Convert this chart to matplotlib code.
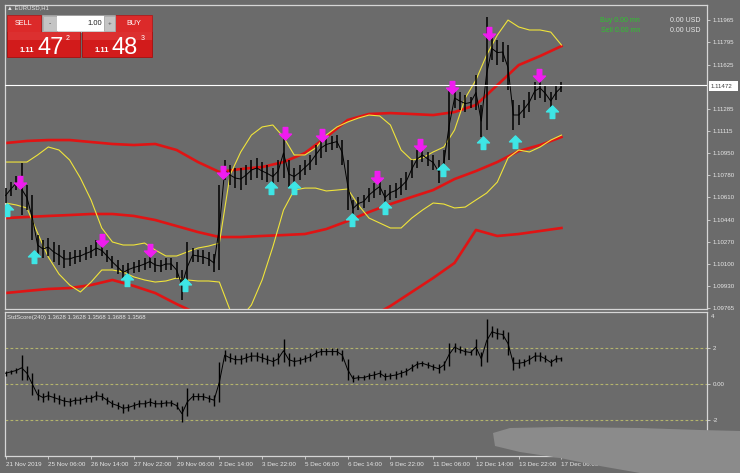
import matplotlib
matplotlib.use('Agg')
import matplotlib.pyplot as plt
from matplotlib.path import Path
from matplotlib.patches import Rectangle, Polygon

# ---------------- data ----------------
bar_index = list(range(0, 420, 4))   # sampled H1 bar numbers

price_high = [1.10681,1.10727,1.10773,1.10872,1.10704,1.10628,1.10322,1.10284,1.10299,1.10269,
              1.10246,1.10208,1.10193,1.10208,1.10208,1.10231,1.10246,1.10284,1.10246,1.10208,
              1.10162,1.10131,1.10093,1.10108,1.10116,1.10131,1.10147,1.10170,1.10147,1.10131,
              1.10147,1.10147,1.10116,1.10055,1.10269,1.10223,1.10208,1.10208,1.10193,1.10177,
              1.10704,1.10895,1.10857,1.10834,1.10834,1.10857,1.10895,1.10911,1.10880,1.10857,
              1.10834,1.10895,1.11140,1.10895,1.10834,1.10857,1.10895,1.10934,1.11010,1.11063,
              1.11071,1.11079,1.11086,1.11048,1.10895,1.10590,1.10613,1.10628,1.10681,1.10720,
              1.10758,1.10666,1.10704,1.10720,1.10758,1.10804,1.10895,1.10972,1.10987,1.10957,
              1.10934,1.10895,1.10972,1.11430,1.11445,1.11415,1.11392,1.11377,1.11545,1.11316,
              1.11988,1.11835,1.11812,1.11797,1.11774,1.11354,1.11316,1.11354,1.11415,1.11491,
              1.11522,1.11468,1.11415,1.11468,1.11491]
price_low = [1.10567,1.10620,1.10666,1.10475,1.10513,1.10284,1.10170,1.10147,1.10162,1.10116,
             1.10093,1.10070,1.10086,1.10101,1.10116,1.10131,1.10147,1.10162,1.10162,1.10116,
             1.10070,1.10024,1.09979,1.10009,1.10032,1.10040,1.10055,1.10070,1.10040,1.10040,
             1.10055,1.10055,1.09994,1.09826,1.09887,1.10116,1.10116,1.10101,1.10086,1.10040,
             1.10055,1.10743,1.10704,1.10681,1.10666,1.10704,1.10743,1.10758,1.10743,1.10727,
             1.10704,1.10727,1.10758,1.10681,1.10704,1.10743,1.10781,1.10819,1.10857,1.10911,
             1.10957,1.10972,1.10987,1.10857,1.10513,1.10460,1.10513,1.10529,1.10575,1.10605,
             1.10628,1.10552,1.10590,1.10605,1.10628,1.10666,1.10758,1.10834,1.10880,1.10850,
             1.10819,1.10720,1.10781,1.10895,1.11293,1.11277,1.11262,1.11293,1.11277,1.11071,
             1.11125,1.11659,1.11621,1.11644,1.11430,1.11125,1.11163,1.11216,1.11262,1.11354,
             1.11369,1.11339,1.11278,1.11354,1.11415]

bb_index = list(range(0, 424, 8))
bb_upper = [1.10880,1.10880,1.10880,1.10934,1.10995,1.10972,1.10895,1.10758,1.10590,1.10376,
            1.10269,1.10246,1.10246,1.10261,1.10208,1.10162,1.10162,1.10193,1.10223,1.10238,
            1.10261,1.10781,1.10957,1.11086,1.11148,1.11163,1.11071,1.10934,1.10934,1.10987,
            1.11086,1.11148,1.11186,1.11216,1.11239,1.11232,1.11163,1.10972,1.10895,1.10911,
            1.10957,1.10995,1.11125,1.11369,1.11507,1.11698,1.11850,1.11965,1.11912,1.11889,
            1.11889,1.11873,1.11774]
bb_lower = [1.10567,1.10552,1.10529,1.10338,1.10154,1.10024,1.09940,1.09887,1.09963,1.10055,
            1.10055,1.10040,1.10002,1.09979,1.09963,1.09971,1.09994,1.09979,1.09971,1.09971,
            1.09963,1.09749,1.09688,1.09788,1.09979,1.10231,1.10513,1.10666,1.10681,1.10681,
            1.10659,1.10666,1.10674,1.10552,1.10452,1.10414,1.10376,1.10376,1.10452,1.10513,
            1.10567,1.10559,1.10529,1.10536,1.10590,1.10643,1.10727,1.10911,1.10972,1.10957,
            1.10995,1.11048,1.11086]

env_index = list(range(0, 432, 16))
env_upper = [1.11025,1.11041,1.11048,1.11048,1.11033,1.11018,1.11010,1.11018,1.10972,1.10880,
             1.10804,1.10827,1.10842,1.10880,1.10949,1.11071,1.11201,1.11247,1.11254,1.11247,
             1.11239,1.11262,1.11316,1.11468,1.11621,1.11690,1.11766]
env_middle = [1.10452,1.10460,1.10468,1.10475,1.10483,1.10483,1.10468,1.10437,1.10391,1.10345,
              1.10307,1.10307,1.10315,1.10322,1.10330,1.10368,1.10429,1.10498,1.10559,1.10613,
              1.10666,1.10750,1.10811,1.10880,1.10964,1.11010,1.11071]
env_lower = [1.09879,1.09895,1.09910,1.09917,1.09940,1.09979,1.09933,1.09879,1.09795,1.09719,
             1.09658,1.09597,1.09558,1.09535,1.09535,1.09574,1.09620,1.09688,1.09780,1.09887,
             1.09994,1.10109,1.10361,1.10315,1.10330,1.10353,1.10376]

sell_arrow_bar = [11, 72, 108, 163, 209, 237, 278, 310, 334, 362, 399]
sell_arrow_price = [1.10727,1.10284,1.10208,1.10804,1.11102,1.11086,1.10766,1.11010,1.11453,1.11866,1.11545]
buy_arrow_bar = [1, 21, 91, 134, 199, 216, 259, 284, 327, 357, 381, 409]
buy_arrow_price = [1.10514,1.10154,1.09979,1.09940,1.10681,1.10681,1.10437,1.10529,1.10819,1.11025,1.11033,1.11262]

std_high = [0.75,0.8,0.9,1.6,1.0,0.6,-0.3,-0.5,-0.4,-0.5,
            -0.6,-0.7,-0.8,-0.7,-0.7,-0.6,-0.6,-0.4,-0.5,-0.7,
            -0.9,-1.0,-1.1,-1.1,-1.0,-0.9,-0.9,-0.8,-0.9,-0.9,
            -0.9,-0.9,-1.0,-1.2,-0.2,-0.5,-0.5,-0.5,-0.6,-0.6,
            1.2,1.9,1.7,1.6,1.6,1.7,1.8,1.8,1.7,1.6,
            1.5,1.7,2.5,1.7,1.5,1.5,1.6,1.7,1.9,2.0,
            2.0,2.0,2.0,1.9,1.4,0.5,0.5,0.5,0.6,0.7,
            0.8,0.6,0.6,0.7,0.8,0.9,1.1,1.3,1.3,1.2,
            1.1,1.1,1.3,2.3,2.3,2.1,2.0,1.9,2.5,1.8,
            3.6,3.2,3.1,3.0,2.9,1.5,1.4,1.4,1.6,1.8,
            1.8,1.6,1.4,1.6,1.5]
std_low = [0.45,0.55,0.6,0.2,0.2,-0.6,-0.9,-1.0,-0.9,-1.0,
           -1.1,-1.2,-1.2,-1.1,-1.1,-1.0,-1.0,-0.9,-0.9,-1.1,
           -1.3,-1.4,-1.6,-1.5,-1.4,-1.3,-1.3,-1.2,-1.3,-1.3,
           -1.2,-1.2,-1.4,-2.1,-1.8,-0.9,-0.9,-0.9,-1.0,-1.2,
           -1.0,1.3,1.2,1.1,1.1,1.2,1.3,1.3,1.2,1.1,
           1.0,1.1,1.2,1.0,1.0,1.1,1.2,1.3,1.5,1.6,
           1.6,1.6,1.6,1.3,0.2,0.1,0.2,0.2,0.3,0.3,
           0.4,0.2,0.3,0.3,0.4,0.5,0.7,0.9,1.0,0.9,
           0.8,0.6,0.8,1.0,1.8,1.7,1.6,1.6,1.6,1.0,
           1.2,2.6,2.5,2.5,1.6,0.8,0.9,1.0,1.1,1.3,
           1.3,1.2,1.0,1.2,1.3]

price_ticks = [1.11965,1.11795,1.11625,1.11285,1.11115,1.10950,1.10780,
               1.10610,1.10440,1.10270,1.10100,1.09930,1.09765]
current_price = 1.11472
std_levels = [2, 0, -2]
time_tick_bars = list(range(0, 448, 32))
time_labels = ['21 Nov 2019','25 Nov 06:00','26 Nov 14:00','27 Nov 22:00','29 Nov 06:00',
               '2 Dec 14:00','3 Dec 22:00','5 Dec 06:00','6 Dec 14:00','9 Dec 22:00',
               '11 Dec 06:00','12 Dec 14:00','13 Dec 22:00','17 Dec 06:00']

# ---------------- figure ----------------
W, H = 740, 473
BG = '#6b6b6b'
FRAME = '#d6d6d6'
TXT = '#e6e6e6'
FONT = ['Liberation Sans', 'DejaVu Sans']
plt.rcParams['font.family'] = FONT

fig = plt.figure(figsize=(7.4, 4.73), dpi=100)
fig.patch.set_facecolor(BG)

def fx(px):
    return px / W

def fy(py):
    return 1 - py / H

ax = fig.add_axes([fx(5), fy(309), fx(707) - fx(5), fy(5) - fy(309)])
ax2 = fig.add_axes([fx(5), fy(456), fx(707) - fx(5), fy(312) - fy(456)])
XL = (-0.4, 524.9)

for a in (ax, ax2):
    a.set_facecolor(BG)
    a.set_xlim(*XL)
    for s in a.spines.values():
        s.set_color(FRAME)
        s.set_linewidth(0.9)

# ---- main price panel ----
ax.set_ylim(1.09757, 1.12080)
ax.plot(env_index, env_upper, color='#e01414', lw=1.9, zorder=2)
ax.plot(env_index, env_middle, color='#e01414', lw=1.9, zorder=2)
ax.plot(env_index, env_lower, color='#e01414', lw=1.9, zorder=2)
ax.plot(bb_index, bb_upper, color='#f0e43a', lw=0.8, zorder=2)
ax.plot(bb_index, bb_lower, color='#f0e43a', lw=0.8, zorder=2)

ax.vlines(bar_index, price_low, price_high, color='black', lw=1.1, zorder=3)
mids = [(h + l) / 2 for h, l in zip(price_high, price_low)]
ax.plot(bar_index, mids, color='black', lw=0.7, zorder=3)

ax.axhline(current_price, color='white', lw=0.8, zorder=4)

up = Path([(-0.5, 0.05), (0, 0.55), (0.5, 0.05), (0.19, 0.05), (0.19, -0.5),
           (-0.19, -0.5), (-0.19, 0.05), (-0.5, 0.05)], closed=True)
down = Path([(x, -y) for x, y in up.vertices], closed=True)
ax.plot(sell_arrow_bar, sell_arrow_price, ls='none', marker=down, ms=9.5,
        color='#f01cf0', mec='#f01cf0', zorder=5)
ax.plot(buy_arrow_bar, buy_arrow_price, ls='none', marker=up, ms=9.5,
        color='#3ee6e6', mec='#3ee6e6', zorder=5)

ax.set_xticks([])
ax.yaxis.tick_right()
ax.set_yticks(price_ticks)
ax.set_yticklabels([f'{v:.5f}' for v in price_ticks])
ax.tick_params(axis='y', colors=FRAME, labelcolor=TXT, labelsize=4.4, length=2.5, width=0.6, pad=1.5)

# ---- StdScore panel ----
ax2.set_ylim(-4, 4)
for lv in std_levels:
    ax2.axhline(lv, color='#b4b46c', lw=0.8, ls=(0, (2.5, 2)), zorder=1)
ax2.vlines(bar_index, std_low, std_high, color='black', lw=1.0, zorder=3)
smids = [(h + l) / 2 for h, l in zip(std_high, std_low)]
ax2.plot(bar_index, smids, color='black', lw=0.7, zorder=3)
ax2.yaxis.tick_right()
ax2.set_yticks(std_levels)
ax2.set_yticklabels(['2', '0.00', '-2'])
ax2.tick_params(axis='y', colors=FRAME, labelcolor=TXT, labelsize=4.4, length=2.5, width=0.6, pad=1.5)
ax2.set_xticks(time_tick_bars)
ax2.set_xticklabels(time_labels, ha='left')
ax2.tick_params(axis='x', colors=FRAME, labelcolor=TXT, labelsize=4.5, length=2.5, width=0.6, pad=1.5)

# ---------------- overlay (pixel coordinates) ----------------
ov = fig.add_axes([0, 0, 1, 1], zorder=10)
ov.set_xlim(0, W)
ov.set_ylim(H, 0)
ov.axis('off')
ov.patch.set_alpha(0)

ov.text(711, 316, '4', fontsize=4.4, color=TXT, va='center', ha='left')
ov.text(7, 317, 'StdScore(240) 1.3628 1.3628 1.3568 1.3688 1.3568',
        fontsize=4.3, color=TXT, va='center', ha='left')

# current price label
ov.add_patch(Rectangle((709, 81), 29, 10, facecolor='white', edgecolor='none'))
ov.text(711, 86, '1.11472', fontsize=4.4, color='#404040', va='center', ha='left')

# symbol header
ov.text(7, 8, '\u25b2 EURUSD,H1', fontsize=4.2, color=TXT, va='center', ha='left')

# one-click trading panel
RED = '#d21b1b'
ov.add_patch(Rectangle((7, 15), 34, 17, facecolor='#dc2a2a', edgecolor='#b01212', lw=0.5))
ov.add_patch(Rectangle((115, 15), 37, 17, facecolor='#dc2a2a', edgecolor='#b01212', lw=0.5))
ov.add_patch(Rectangle((42, 15), 73, 17, facecolor='#d0d0d0', edgecolor='#a0a0a0', lw=0.5))
ov.add_patch(Rectangle((43, 16), 14, 15, facecolor='#c4c4c4', edgecolor='#9a9a9a', lw=0.4))
ov.add_patch(Rectangle((104, 16), 11, 15, facecolor='#c4c4c4', edgecolor='#9a9a9a', lw=0.4))
ov.add_patch(Rectangle((57, 16), 47, 15, facecolor='white', edgecolor='none'))
ov.text(24, 23.5, 'SELL', fontsize=5.2, color='white', ha='center', va='center')
ov.text(133.5, 23.5, 'BUY', fontsize=5.2, color='white', ha='center', va='center')
ov.text(50, 23.5, '-', fontsize=5, color='#505050', ha='center', va='center')
ov.text(109.5, 23.5, '+', fontsize=4.5, color='#505050', ha='center', va='center')
ov.text(102, 23.5, '1.00', fontsize=5.5, color='#202020', ha='right', va='center')

for x0, w, big, sup in ((7, 73, '47', '2'), (82, 70, '48', '3')):
    ov.add_patch(Rectangle((x0, 32), w, 25, facecolor=RED, edgecolor='#a80e0e', lw=0.6))
    ov.add_patch(Rectangle((x0 + 0.5, 32.5), w - 1, 8, facecolor='#dc3030', edgecolor='none'))
    ov.text(x0 + 13, 52.5, '1.11', fontsize=5.6, fontweight='bold', color='white', ha='left', va='baseline')
    ov.text(x0 + 30, 54.5, big, fontsize=17, color='white', ha='left', va='baseline')
    ov.text(x0 + 59, 39, sup, fontsize=5, color='white', ha='left', va='center')

# account info
ov.text(640, 20, 'Buy 0.00 mn', fontsize=5, color='#2ec52e', ha='right', va='center')
ov.text(640, 30, 'Sell 0.00 mn', fontsize=5, color='#2ec52e', ha='right', va='center')
ov.text(700, 20, '0.00 USD', fontsize=5, color=TXT, ha='right', va='center')
ov.text(700, 30, '0.00 USD', fontsize=5, color=TXT, ha='right', va='center')

# grey smudge at lower right
ov.add_patch(Polygon([(493, 433), (510, 428), (560, 427), (640, 428), (700, 430), (740, 431),
                      (740, 473), (640, 473), (600, 466), (560, 458), (520, 452), (495, 446)],
                     closed=True, facecolor='#8b8b8b', edgecolor='none'))

fig.savefig('out.png', dpi=100, facecolor=BG)
